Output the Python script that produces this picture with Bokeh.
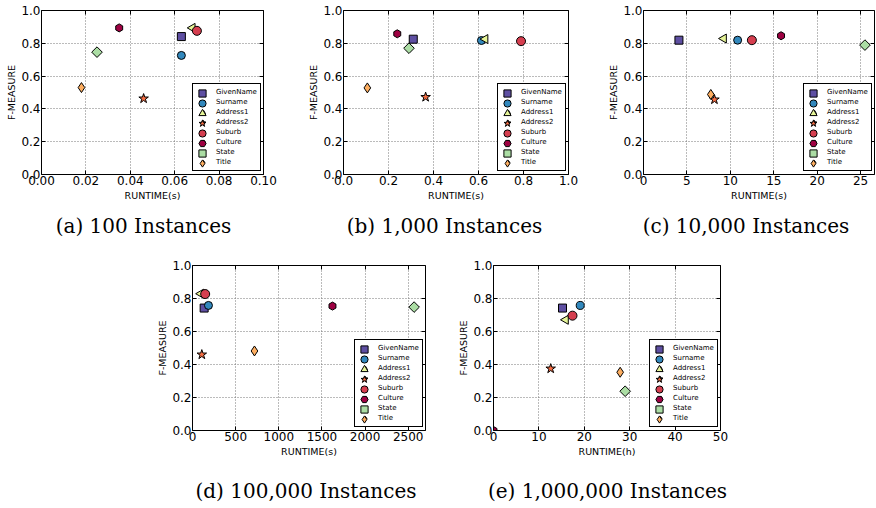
import math
from bokeh.plotting import figure
from bokeh.layouts import row, column, Spacer
from bokeh.models import (FixedTicker, LinearAxis, Range1d, Legend, LegendItem,
                          CustomJSTickFormatter, ColumnDataSource, Div)
from bokeh.embed import file_html
from bokeh.resources import INLINE

# ---------------- data ----------------
names = ["GivenName", "Surname", "Address1", "Address2",
         "Suburb", "Culture", "State", "Title"]
colors = ["#5e4fa2", "#3288bd", "#e6f598", "#f46d43",
          "#d53e4f", "#9e0142", "#abdda4", "#fdae61"]

fmeasure_ticks = [0.0, 0.2, 0.4, 0.6, 0.8, 1.0]
fmeasure_labels = ["0.0", "0.2", "0.4", "0.6", "0.8", "1.0"]

captions = ["(a) 100 Instances", "(b) 1,000 Instances", "(c) 10,000 Instances",
            "(d) 100,000 Instances", "(e) 1,000,000 Instances"]

# (a) 100 instances, runtime in seconds
rt_100 = [0.063, 0.063, 0.068, 0.046, 0.070, 0.035, 0.025, 0.018]
fm_100 = [0.841, 0.726, 0.894, 0.463, 0.876, 0.894, 0.746, 0.530]
xt_100 = [0.0, 0.02, 0.04, 0.06, 0.08, 0.10]
xl_100 = ["0.00", "0.02", "0.04", "0.06", "0.08", "0.10"]

# (b) 1,000 instances, seconds
rt_1k = [0.310, 0.613, 0.630, 0.365, 0.789, 0.239, 0.291, 0.106]
fm_1k = [0.825, 0.817, 0.826, 0.472, 0.813, 0.858, 0.770, 0.528]
xt_1k = [0.0, 0.2, 0.4, 0.6, 0.8, 1.0]
xl_1k = ["0.0", "0.2", "0.4", "0.6", "0.8", "1.0"]

# (c) 10,000 instances, seconds
rt_10k = [4.08, 10.84, 9.24, 8.17, 12.48, 15.84, 25.5, 7.75]
fm_10k = [0.819, 0.819, 0.829, 0.457, 0.819, 0.846, 0.789, 0.488]
xt_10k = [0, 5, 10, 15, 20, 25]
xl_10k = ["0", "5", "10", "15", "20", "25"]

# (d) 100,000 instances, seconds
rt_100k = [135, 185, 97, 108, 147, 1622, 2568, 718]
fm_100k = [0.742, 0.758, 0.829, 0.460, 0.827, 0.754, 0.748, 0.482]
xt_100k = [0, 500, 1000, 1500, 2000, 2500]
xl_100k = ["0", "500", "1000", "1500", "2000", "2500"]

# (e) 1,000,000 instances, hours
rt_1m = [15.2, 19.1, 15.9, 12.6, 17.4, 0.0, 29.0, 27.9]
fm_1m = [0.742, 0.758, 0.671, 0.375, 0.696, 0.0, 0.238, 0.353]
xt_1m = [0, 10, 20, 30, 40, 50]
xl_1m = ["0", "10", "20", "30", "40", "50"]

# marker styling per series
markers = ["square", "circle", "triangle", "star", "circle", "hex", "square", "diamond"]
sizes = [8, 8, 9, 10, 9, 8, 7.5, 10]
angles = [0, 0, math.pi / 2, 0, 0, math.pi / 2, math.pi / 4, 0]

SANS = "DejaVu Sans"
SERIF = "DejaVu Serif"


def style_axis(ax, ticks, labels, show_labels=True):
    ax.ticker = FixedTicker(ticks=ticks)
    ax.axis_line_color = None
    ax.major_tick_in = 4
    ax.major_tick_out = 0
    ax.major_tick_line_color = "black"
    ax.minor_tick_line_color = None
    if show_labels:
        ax.major_label_overrides = {t: l for t, l in zip(ticks, labels)}
        ax.major_label_text_font = SANS
        ax.major_label_text_font_size = "12px"
        ax.major_label_text_color = "black"
        ax.major_label_standoff = 1
    else:
        ax.formatter = CustomJSTickFormatter(code="return ''")
        ax.major_label_text_font_size = "0px"
        ax.major_label_standoff = 0


def make_fig(rt, fm, xmax, xticks, xlabels, xlabel,
             width, height, mb_left, mb_top, frame_w, frame_h):
    p = figure(width=width, height=height,
               x_range=Range1d(0, xmax), y_range=Range1d(0, 1),
               output_backend="svg", toolbar_location=None,
               min_border_left=mb_left,
               min_border_right=width - mb_left - frame_w,
               min_border_top=mb_top,
               min_border_bottom=height - mb_top - frame_h,
               background_fill_color="white", border_fill_color="white")
    p.outline_line_color = "black"
    p.outline_line_width = 1
    p.outline_line_alpha = 1

    style_axis(p.xaxis[0], xticks, xlabels)
    style_axis(p.yaxis[0], fmeasure_ticks, fmeasure_labels)
    p.xaxis[0].axis_label = xlabel
    p.yaxis[0].axis_label = "F-MEASURE"
    for ax in (p.xaxis[0], p.yaxis[0]):
        ax.axis_label_text_font = SANS
        ax.axis_label_text_font_size = "9.5px"
        ax.axis_label_text_font_style = "normal"
        ax.axis_label_text_color = "black"
    p.xaxis[0].axis_label_standoff = 2
    p.yaxis[0].axis_label_standoff = 1

    top = LinearAxis()
    style_axis(top, xticks, xlabels, show_labels=False)
    p.add_layout(top, "above")
    right = LinearAxis()
    style_axis(right, fmeasure_ticks, fmeasure_labels, show_labels=False)
    p.add_layout(right, "right")

    p.xgrid.ticker = FixedTicker(ticks=xticks)
    p.ygrid.ticker = FixedTicker(ticks=fmeasure_ticks)
    p.grid.grid_line_color = "#777777"
    p.grid.grid_line_dash = "1 2"
    p.grid.grid_line_width = 1

    rends = []
    for i in range(len(names)):
        src = ColumnDataSource(dict(x=[rt[i]], y=[fm[i]]))
        r = p.scatter(x="x", y="y", source=src, marker=markers[i], size=sizes[i],
                      angle=angles[i], fill_color=colors[i], line_color="black",
                      line_width=1)
        rends.append(r)

    # legend box with labels (bottom-right inside the frame)
    lx, ly = frame_w - 71, 3
    pad, gw, row_h = 3, 14, 10
    box = Legend(items=[LegendItem(label=n, renderers=[r]) for n, r in zip(names, rends)],
                 location=(lx, ly), margin=0, padding=pad, spacing=0,
                 glyph_width=gw, glyph_height=row_h, label_height=row_h,
                 label_standoff=6, label_text_font=SANS, label_text_font_size="7px",
                 label_text_color="black", border_line_color="black",
                 border_line_width=1, border_line_alpha=1,
                 background_fill_color="white", background_fill_alpha=1)
    p.add_layout(box, "center")
    # larger legend markers drawn on top of the box's rows
    big = 18
    n = len(names)
    for i, r in enumerate(rends):
        cx = lx + pad + gw / 2
        cy = ly + pad + (n - 1 - i) * row_h + row_h / 2
        mk = Legend(items=[LegendItem(label=" ", renderers=[r])],
                    location=(cx - big / 2, cy - big / 2), margin=0, padding=0,
                    spacing=0, glyph_width=big, glyph_height=big, label_height=big,
                    label_width=0, label_standoff=0, label_text_font_size="7px",
                    border_line_color=None, background_fill_alpha=0)
        p.add_layout(mk, "center")
    return p


def caption(text, width, height, pad):
    html = ('<div style="width:%dpx;text-align:center;white-space:nowrap;'
            "font-family:'DejaVu Serif';font-size:20px;line-height:20px;"
            'color:black;padding-top:%dpx">%s</div>' % (width, pad, text))
    return Div(text=html, width=width, height=height, margin=0)


H1, H2 = 210, 211
pa = make_fig(rt_100, fm_100, 0.10, xt_100, xl_100, "RUNTIME(s)",
              302, H1, 41, 10, 222, 164)
pb = make_fig(rt_1k, fm_1k, 1.0, xt_1k, xl_1k, "RUNTIME(s)",
              300, H1, 41, 10, 225, 164)
pc = make_fig(rt_10k, fm_10k, 26.6, xt_10k, xl_10k, "RUNTIME(s)",
              274, H1, 41, 10, 231, 164)
pd = make_fig(rt_100k, fm_100k, 2700, xt_100k, xl_100k, "RUNTIME(s)",
              301, H2, 41, 10, 233, 165)
pe = make_fig(rt_1m, fm_1m, 50, xt_1m, xl_1m, "RUNTIME(h)",
              308, H2, 41, 10, 227, 165)

cap1 = row(caption(captions[0], 287, 45, 6), caption(captions[1], 315, 45, 6),
           Spacer(width=14, height=45), caption(captions[2], 260, 45, 6), spacing=0)
cap2 = row(Spacer(width=176, height=41), caption(captions[3], 260, 41, 15),
           caption(captions[4], 343, 41, 15), spacing=0)

layout = column(row(pa, pb, pc, spacing=0),
                cap1,
                row(Spacer(width=151, height=H2), pd, pe, spacing=0),
                cap2,
                spacing=0)

open("out.html", "w").write(file_html(layout, INLINE))
